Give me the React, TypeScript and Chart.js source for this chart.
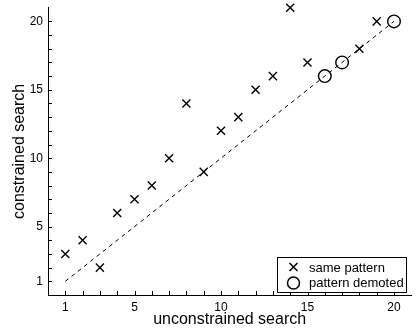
import React, { useEffect, useRef } from "react";
import { Chart, registerables } from "chart.js";

Chart.register(...registerables);

// Runs where the pattern stayed the same
const sameX = [1, 2, 3, 4, 5, 6, 7, 8, 9, 10, 11, 12, 13, 14, 15, 18, 19];
const sameY = [3, 4, 2, 6, 7, 8, 10, 14, 9, 12, 13, 15, 16, 21, 17, 18, 20];
// Runs where the pattern was demoted
const demotedX = [16, 17, 20];
const demotedY = [16, 17, 20];
// Reference diagonal y = x
const diagX = [1, 20];
const diagY = [1, 20];

const labeledTicks = [1, 5, 10, 15, 20];
const minorTicks = [1, 2, 3, 4, 5, 6, 7, 8, 9, 10, 11, 12, 13, 14, 15, 16, 17, 18, 19, 20];
const legendLabels = ["same pattern", "pattern demoted"];

const FONT = "'Liberation Sans', Arial, Helvetica, sans-serif";

// Inward-pointing tick marks along the bottom and left axes
const inwardTicks = {
  id: "inwardTicks",
  afterDatasetsDraw(chart: any) {
    const { ctx, chartArea, scales } = chart;
    ctx.save();
    ctx.strokeStyle = "#000";
    ctx.lineWidth = 1;
    ctx.beginPath();
    for (const v of minorTicks) {
      const x = Math.round(scales.x.getPixelForValue(v)) + 0.5;
      ctx.moveTo(x, chartArea.bottom);
      ctx.lineTo(x, chartArea.bottom - 4);
      const y = Math.round(scales.y.getPixelForValue(v)) + 0.5;
      ctx.moveTo(chartArea.left, y);
      ctx.lineTo(chartArea.left + 4, y);
    }
    ctx.stroke();
    ctx.restore();
  },
};

// Boxed legend in the lower right corner of the plot
const boxLegend = {
  id: "boxLegend",
  afterDraw(chart: any) {
    const { ctx, chartArea } = chart;
    const w = 129;
    const h = 35;
    const x0 = Math.round(chartArea.right - 5 - w) + 0.5;
    const y0 = Math.round(chartArea.bottom - 3 - h) + 0.5;
    ctx.save();
    ctx.fillStyle = "#fff";
    ctx.strokeStyle = "#000";
    ctx.lineWidth = 1;
    ctx.fillRect(x0, y0, w, h);
    ctx.strokeRect(x0, y0, w, h);

    const mx = x0 + 16;
    const r1y = y0 + 9.5;
    const r2y = y0 + 25.5;
    ctx.lineWidth = 1.5;
    ctx.beginPath();
    ctx.moveTo(mx - 4, r1y - 4);
    ctx.lineTo(mx + 4, r1y + 4);
    ctx.moveTo(mx + 4, r1y - 4);
    ctx.lineTo(mx - 4, r1y + 4);
    ctx.stroke();
    ctx.beginPath();
    ctx.arc(mx, r2y, 6, 0, Math.PI * 2);
    ctx.stroke();

    ctx.fillStyle = "#000";
    ctx.font = `13px ${FONT}`;
    ctx.textBaseline = "alphabetic";
    ctx.textAlign = "left";
    ctx.fillText(legendLabels[0], x0 + 31.5, r1y + 4.5);
    ctx.fillText(legendLabels[1], x0 + 31.5, r2y + 4);
    ctx.restore();
  },
};

export default function App() {
  const canvasRef = useRef<HTMLCanvasElement>(null);

  useEffect(() => {
    if (!canvasRef.current) return;
    const toPoints = (xs: number[], ys: number[]) => xs.map((x, i) => ({ x, y: ys[i] }));

    const axisCommon = (title: string, titlePadding: any) => ({
      type: "linear" as const,
      min: 0,
      max: 21,
      afterBuildTicks: (scale: any) => {
        scale.ticks = labeledTicks.map((v) => ({ value: v }));
      },
      grid: { display: true, drawOnChartArea: false, drawTicks: false },
      border: { display: true, color: "#000", width: 1 },
      title: {
        display: true,
        text: title,
        color: "#000",
        font: { family: FONT, size: 16 },
        padding: titlePadding,
      },
    });

    const chart = new Chart(canvasRef.current, {
      type: "scatter",
      data: {
        datasets: [
          {
            label: "diagonal",
            data: toPoints(diagX, diagY),
            showLine: true,
            borderColor: "#000",
            borderWidth: 1,
            borderDash: [4, 4],
            pointRadius: 0,
            fill: false,
          },
          {
            label: legendLabels[0],
            data: toPoints(sameX, sameY),
            pointStyle: "crossRot",
            pointRadius: 5.7,
            pointBorderColor: "#000",
            pointBorderWidth: 1.4,
            showLine: false,
            clip: false,
          },
          {
            label: legendLabels[1],
            data: toPoints(demotedX, demotedY),
            pointStyle: "circle",
            pointRadius: 6.3,
            pointBorderColor: "#000",
            pointBackgroundColor: "rgba(0,0,0,0)",
            pointBorderWidth: 1.4,
            showLine: false,
            clip: false,
          },
        ],
      },
      options: {
        animation: false,
        responsive: true,
        maintainAspectRatio: false,
        layout: { padding: { top: 6, right: 5, left: 0, bottom: 0 } },
        plugins: { legend: { display: false }, tooltip: { enabled: false } },
        scales: {
          x: {
            ...axisCommon("unconstrained search", { top: 0, bottom: 1 }),
            position: "bottom",
            afterFit: (scale: any) => {
              scale.height = 35;
              scale.paddingLeft = 0;
              scale.paddingRight = 0;
            },
            ticks: {
              color: "#000",
              font: { family: FONT, size: 12 },
              padding: 5,
              maxRotation: 0,
              autoSkip: false,
            },
          },
          y: {
            ...axisCommon("constrained search", { top: 10, bottom: 0 }),
            position: "left",
            afterFit: (scale: any) => {
              scale.width = 48;
              scale.paddingTop = 0;
              scale.paddingBottom = 0;
            },
            ticks: {
              color: "#000",
              font: { family: FONT, size: 12 },
              padding: 5,
              autoSkip: false,
            },
          },
        },
      },
      plugins: [inwardTicks, boxLegend],
    });

    return () => chart.destroy();
  }, []);

  return (
    <div style={{ position: "absolute", left: 0, top: 0, width: 419, height: 330, background: "#fff" }}>
      <canvas ref={canvasRef} />
    </div>
  );
}
